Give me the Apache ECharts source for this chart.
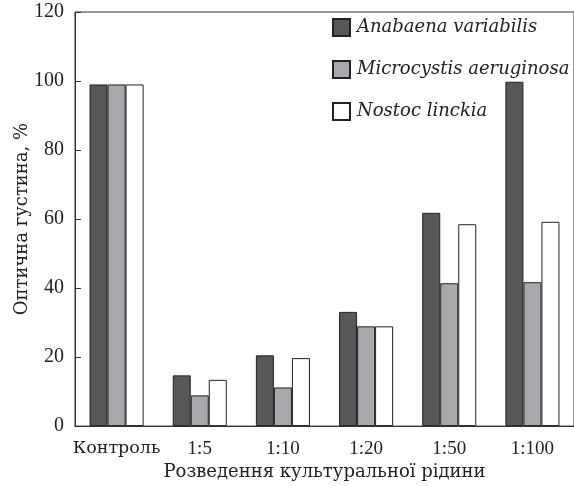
<!DOCTYPE html>
<html>
<head>
<meta charset="utf-8">
<script src="https://cdn.jsdelivr.net/npm/echarts@6/dist/echarts.min.js"></script>
<style>html,body{margin:0;padding:0;background:#fff;}#c{width:574px;height:486px;}</style>
</head>
<body>
<div id="c"></div>
<script>
const categories = ['Контроль', '1:5', '1:10', '1:20', '1:50', '1:100'];
const seriesNames = ['Anabaena variabilis', 'Microcystis aeruginosa', 'Nostoc linckia'];
const anabaena = [99, 14.7, 20.5, 33.1, 61.8, 99.8];
const microcystis = [99, 8.9, 11.2, 28.9, 41.4, 41.7];
const nostoc = [99, 13.4, 19.7, 28.9, 58.5, 59.2];
const yTicks = [0, 20, 40, 60, 80, 100, 120];

const colors = ['#555759', '#a7a8ab', '#ffffff'];
const chart = echarts.init(document.getElementById('c'), null, {renderer: 'canvas'});
const mk = (name, data, i) => ({
  name, type: 'bar', data,
  barGap: '0%', barCategoryGap: '35%',
  itemStyle: {color: colors[i], borderColor: '#222', borderWidth: 1},
  emphasis: {disabled: true}
});
chart.setOption({
  animation: false,
  backgroundColor: '#fff',
  grid: {left: 75, width: 500, top: 12, height: 416, show: true, borderColor: '#333', borderWidth: 1, backgroundColor: 'transparent'},
  legend: {
    orient: 'vertical', left: 332, top: 18, padding: 0,
    itemWidth: 17, itemHeight: 17, itemGap: 23,
    icon: 'rect',
    textStyle: {fontFamily: 'DejaVu Serif', fontStyle: 'italic', fontSize: 18, lineHeight: 17, color: '#222', padding: [0, 0, 0, 2]},
    data: seriesNames
  },
  xAxis: {
    type: 'category', data: categories,
    axisLine: {lineStyle: {color: '#333', width: 1}},
    axisTick: {show: false},
    axisLabel: {
      fontFamily: 'Liberation Serif', fontSize: 19, color: '#222', margin: 13, interval: 0,
      formatter: v => v === categories[0] ? '{c|' + v + '}' : v,
      rich: {c: {fontFamily: 'DejaVu Serif', fontSize: 17.5, color: '#222'}}
    },
    name: 'Розведення культуральної рідини', nameLocation: 'middle', nameGap: 36,
    nameTextStyle: {fontFamily: 'DejaVu Serif', fontSize: 18, color: '#222'}
  },
  yAxis: {
    type: 'value', min: yTicks[0], max: yTicks[yTicks.length - 1], interval: 20,
    axisLine: {show: true, lineStyle: {color: '#333', width: 1}},
    axisTick: {show: true, inside: true, length: 6, lineStyle: {color: '#333'}},
    splitLine: {show: false},
    axisLabel: {fontFamily: 'Liberation Serif', fontSize: 20, color: '#222', margin: 11},
    name: 'Оптична густина, %', nameLocation: 'middle', nameGap: 44, nameRotate: 90,
    nameMoveOverlap: false,
    nameTextStyle: {fontFamily: 'DejaVu Serif', fontSize: 18, color: '#222'}
  },
  series: [mk(seriesNames[0], anabaena, 0), mk(seriesNames[1], microcystis, 1), mk(seriesNames[2], nostoc, 2)]
});
</script>
</body>
</html>
